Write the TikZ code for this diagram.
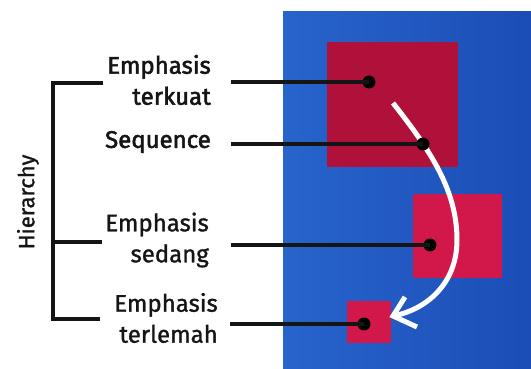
\documentclass[tikz,border=0pt]{standalone}
\usepackage{fontspec}
\setmainfont{Fira Sans}
\newfontfamily\lblfont[FakeBold=1.2]{Fira Sans}
\newfontfamily\lblfontb[FakeBold=2.2]{Fira Sans}
\usetikzlibrary{arrows.meta}
\definecolor{bluel}{HTML}{2764CC}
\definecolor{blued}{HTML}{1C4DB6}
\definecolor{reddark}{HTML}{B0113A}
\definecolor{redmid}{HTML}{D2184A}
\definecolor{inkc}{HTML}{151515}
\tikzset{
  lbl/.style={anchor=east, align=right, inner sep=0pt, font=\lblfont\fontsize{24}{31}\selectfont, text=inkc},
  lblb/.style={lbl, font=\lblfontb\fontsize{24}{31}\selectfont},
  dotn/.style={circle, fill=black, minimum size=13pt, inner sep=0pt},
  lead/.style={line width=3.3pt, draw=inkc},
  brk/.style={line width=3.3pt, draw=inkc, line cap=butt},
  sq/.style={draw=none, inner sep=0pt, anchor=north west},
  flow/.style={draw=white, line width=5pt},
  flowhead/.style={draw=white, line width=5pt, line join=miter, line cap=butt}
}
\begin{document}
\begin{tikzpicture}[x=1pt,y=-1pt]
\useasboundingbox (0,0) rectangle (531,369);
\fill[white] (0,0) rectangle (531,369);
% blue panel
\shade[left color=bluel, right color=blued] (283,12) rectangle (531,369);
% squares
\node[sq, fill=reddark, minimum width=131pt, minimum height=125pt] (big) at (327,42) {};
\node[sq, fill=redmid, minimum width=89pt, minimum height=84pt] (mid) at (413,194) {};
\node[sq, fill=redmid, minimum width=44pt, minimum height=42pt] (small) at (347,301) {};
% white arrow
\coordinate (fs) at (393,103);
\coordinate (fm) at (457,240);
\coordinate (fe) at (393,316);
\coordinate (ha) at (405,297);
\coordinate (hb) at (417,327);
\draw[flow] (fs) .. controls (430,150) and (457,190) .. (fm) .. controls (457,285) and (425,310) .. (fe);
\draw[flowhead] (ha) -- (fe) -- (hb);
% labels
\node[lblb] (l1) at (211,80) {Emphasis\\terkuat};
\node[lblb] (l2) at (211,142) {Sequence};
\node[lbl] (l3) at (209,240) {Emphasis\\sedang};
\node[lbl] (l4) at (218,318) {Emphasis\\terlemah};
\node[rotate=90, inner sep=0pt, font=\lblfont\fontsize{22}{24}\selectfont, text=inkc] (hier) at (28,202) {Hierarchy};
% dots
\node[dotn] (d1) at (369,82) {};
\node[dotn] (d2) at (423,144) {};
\node[dotn] (d3) at (430,245) {};
\node[dotn] (d4) at (364,324) {};
% lead lines
\coordinate (s1) at (231,82);
\coordinate (s2) at (231,144);
\coordinate (s3) at (231,245);
\coordinate (s4) at (230,324);
\draw[lead] (s1) -- (d1.center);
\draw[lead] (s2) -- (d2.center);
\draw[lead] (s3) -- (d3.center);
\draw[lead] (s4) -- (d4.center);
% bracket
\coordinate (b1) at (103,83);
\coordinate (b2) at (102,242);
\coordinate (b3) at (100,319);
\draw[brk] (b1) -- (53,83) -- (53,319) -- (b3);
\draw[brk] (53,242) -- (b2);
\end{tikzpicture}
\end{document}
